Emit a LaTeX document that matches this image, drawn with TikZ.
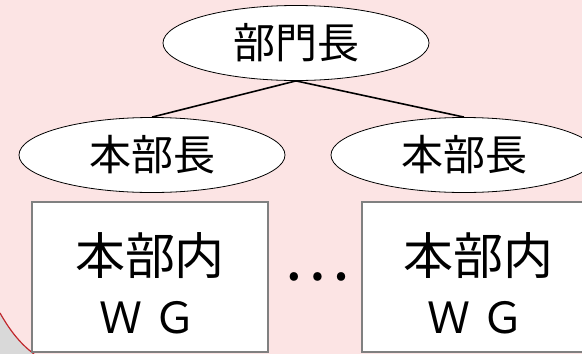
\documentclass[tikz,border=0pt]{standalone}
\usepackage{fontspec}
\setmainfont{Noto Sans CJK JP}
\usetikzlibrary{shapes.geometric}
\definecolor{bgpink}{RGB}{252,228,228}
\definecolor{cornergray}{RGB}{217,217,217}
\definecolor{arcred}{RGB}{192,40,45}
\definecolor{boxgray}{RGB}{128,128,128}
\begin{document}
\begin{tikzpicture}[x=1pt,y=-1pt,
 boss/.style={ellipse,draw=black,line width=0.8pt,fill=white,minimum width=266pt,minimum height=75pt,inner sep=0pt,font=\fontsize{42}{50}\selectfont},
 wgbox/.style={rectangle,draw=boxgray,line width=1.5pt,fill=white,minimum width=236pt,minimum height=150pt,inner sep=0pt},
 bigtext/.style={inner sep=0pt,font=\fontsize{50}{60}\selectfont},
 wgtext/.style={inner sep=0pt,font=\fontsize{43}{50}\selectfont},
 link/.style={draw=black,line width=1.6pt}]
\clip (0,0) rectangle (582,354);
\useasboundingbox (0,0) rectangle (582,354);
\fill[bgpink] (0,0) rectangle (582,354);
\fill[cornergray] (0,313) .. controls (8,327) and (18,342) .. (34,354) -- (0,354) -- cycle;
\draw[arcred,line width=1.2pt] (0,313) .. controls (8,327) and (18,342) .. (34,354);
\node[boss] (top) at (296,43) {部門長};
\node[boss] (hl) at (152,155) {本部長};
\node[boss] (hr) at (464,155) {本部長};
\draw[link] (top.south) -- (hl.north);
\draw[link] (top.south) -- (hr.north);
\node[wgbox] (bl) at (150,277) {};
\node[wgbox] (br) at (480,277) {};
\node[bigtext] (tl1) at (150,255.5) {本部内};
\node[wgtext] (tl2) at (148,318) {Ｗ\hspace{12pt}Ｇ};
\node[bigtext] (tr1) at (478,255.5) {本部内};
\node[wgtext] (tr2) at (476,318) {Ｗ\hspace{12pt}Ｇ};
\node[inner sep=0pt] (dots) at (317,277) {\fontsize{63}{63}\selectfont …};
\end{tikzpicture}
\end{document}
